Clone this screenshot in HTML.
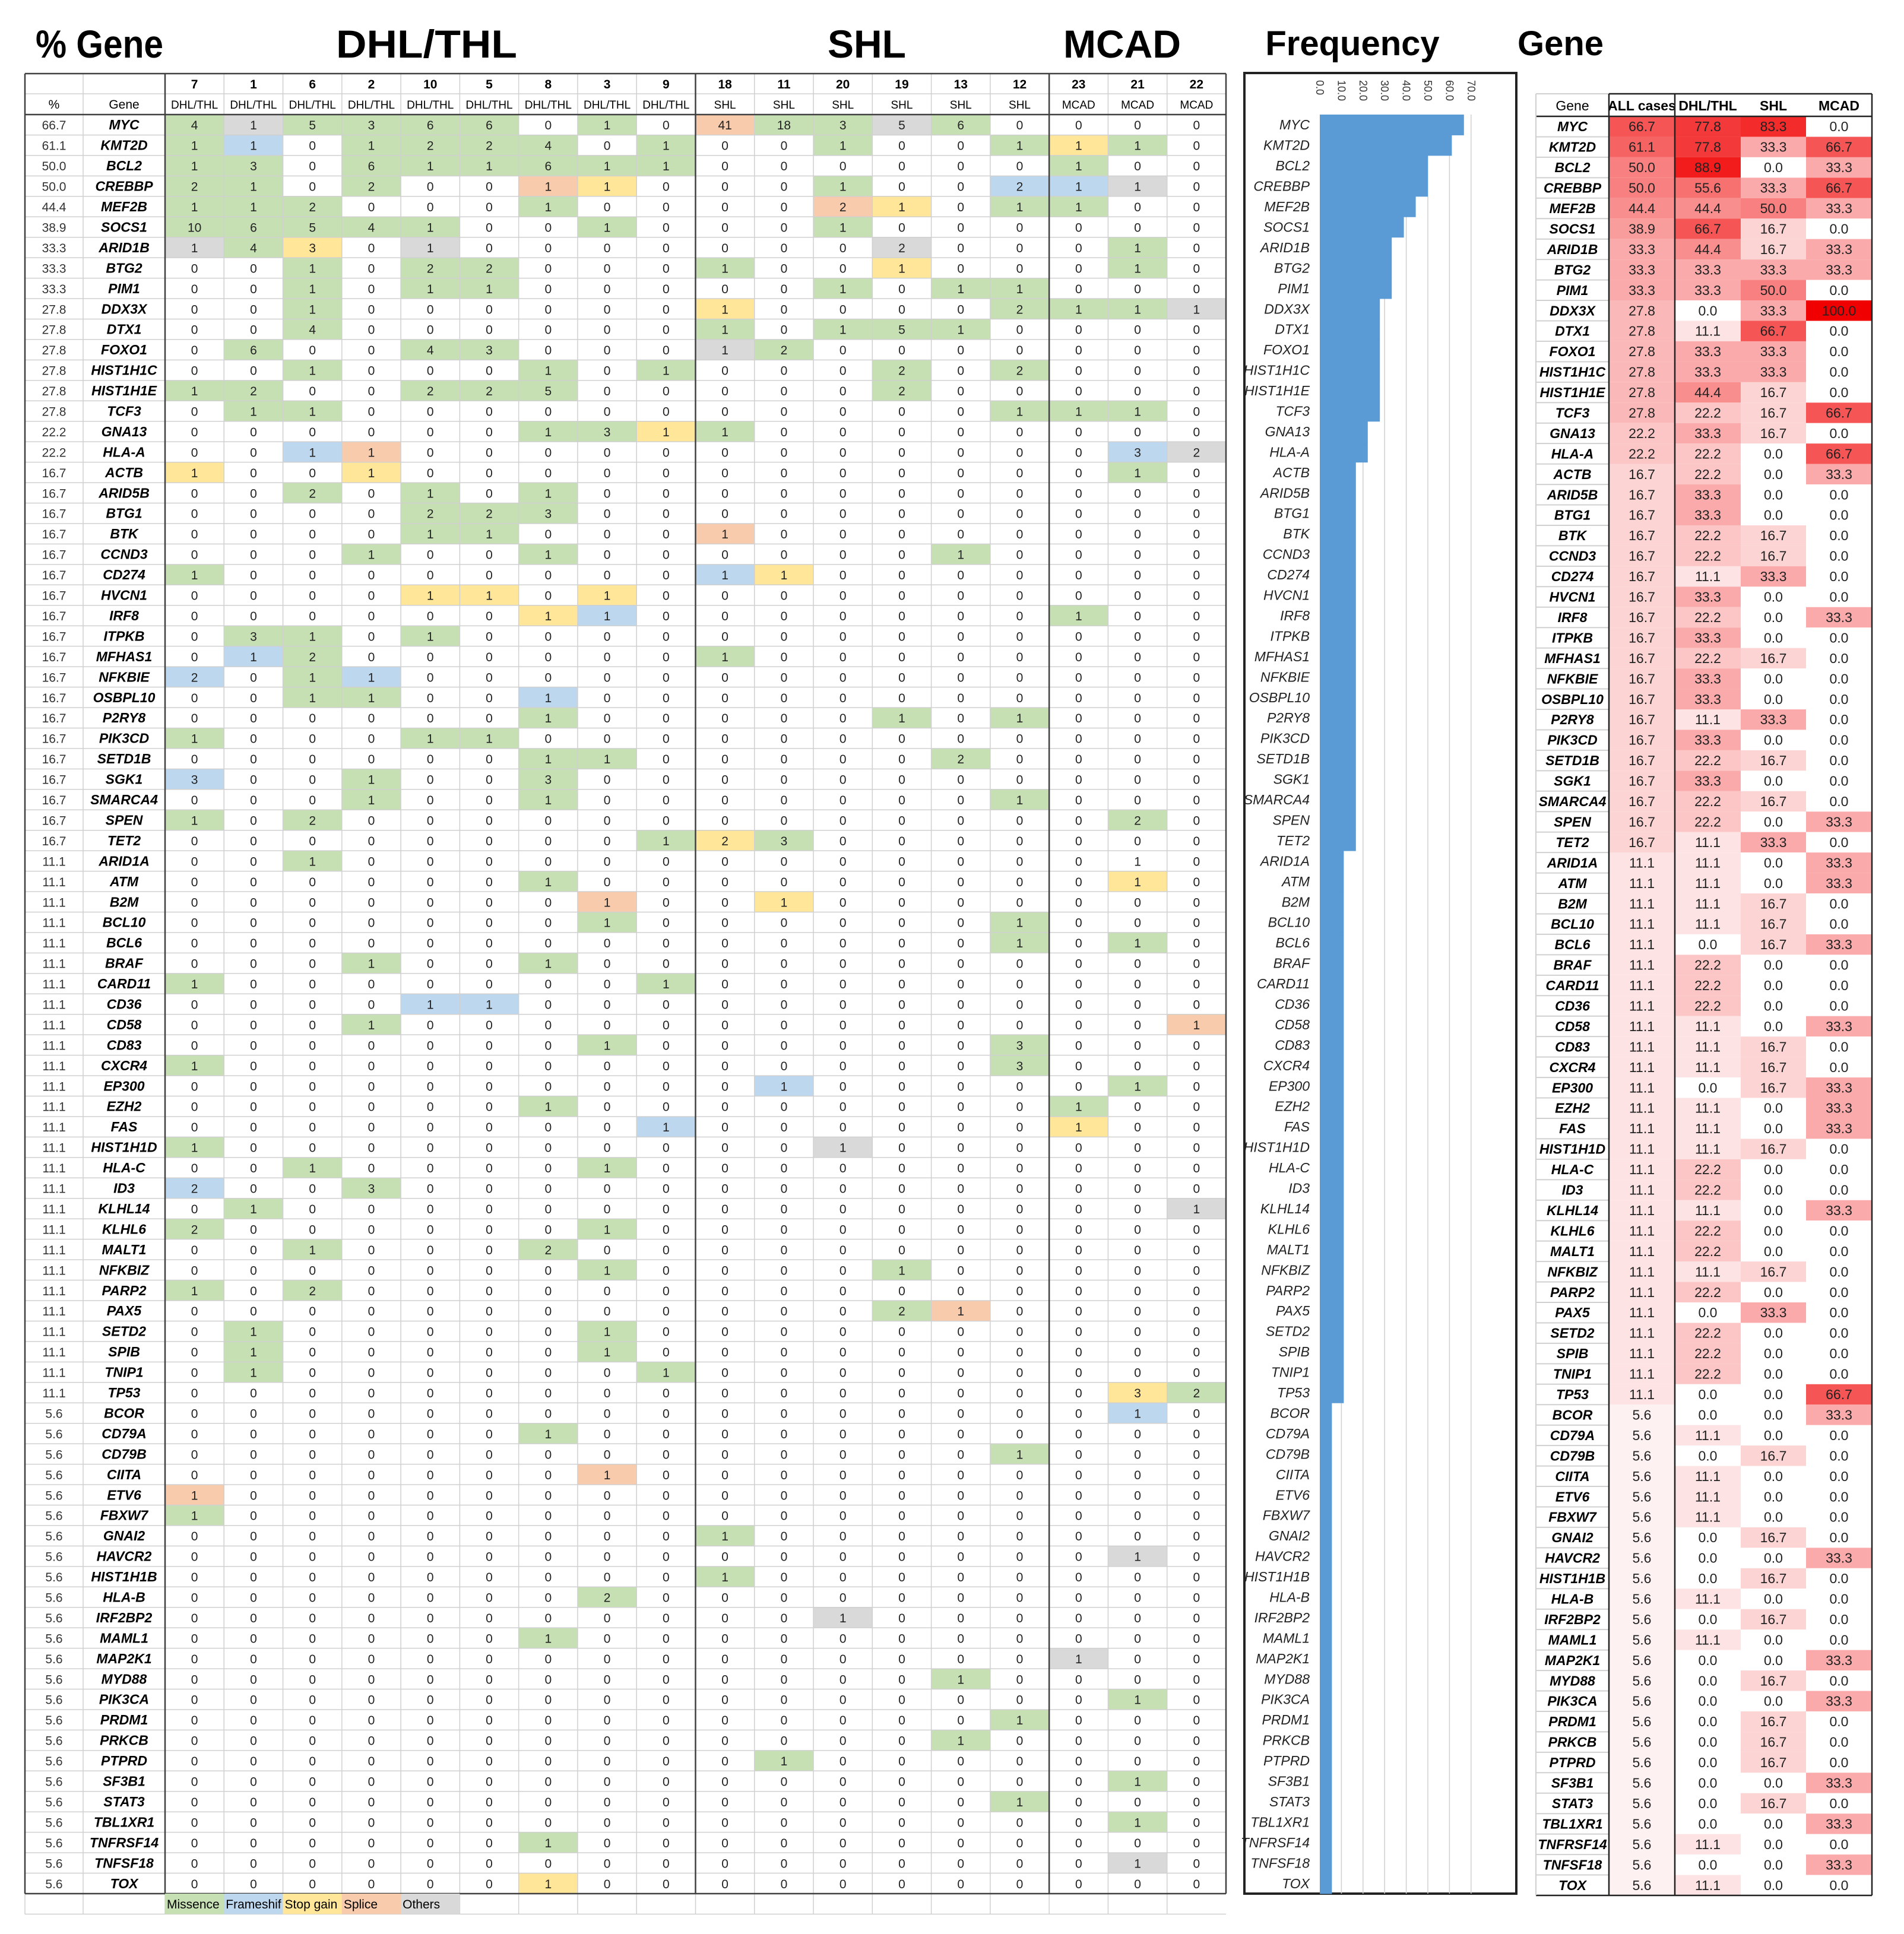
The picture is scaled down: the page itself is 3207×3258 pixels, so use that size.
<!DOCTYPE html>
<html><head><meta charset="utf-8"><style>
html,body{margin:0;padding:0;background:#fff;}
svg{display:block;}
text{font-family:"Liberation Sans Narrow","Liberation Sans",sans-serif;}
</style></head><body>
<svg id="chart" width="3207" height="3258" viewBox="0 0 3207 3258" xmlns="http://www.w3.org/2000/svg">
<rect x="0" y="0" width="3207" height="3258" fill="#fff"/>
<g font-weight="bold" font-size="66" fill="#000" font-family="Liberation Sans, sans-serif">
<text x="60" y="97" textLength="215" lengthAdjust="spacingAndGlyphs">% Gene</text>
<text x="566" y="97" textLength="305" lengthAdjust="spacingAndGlyphs">DHL/THL</text>
<text x="1460" y="97" text-anchor="middle">SHL</text>
<text x="1890" y="97" text-anchor="middle">MCAD</text>
<text x="2278" y="93" text-anchor="middle" font-size="58">Frequency</text>
<text x="2556" y="93" font-size="58">Gene</text>
</g>
<g id="left"></g><g id="freq"></g><g id="right"></g>
</svg>
<script>
const genes = ["MYC","KMT2D","BCL2","CREBBP","MEF2B","SOCS1","ARID1B","BTG2","PIM1","DDX3X","DTX1","FOXO1","HIST1H1C","HIST1H1E","TCF3","GNA13","HLA-A","ACTB","ARID5B","BTG1","BTK","CCND3","CD274","HVCN1","IRF8","ITPKB","MFHAS1","NFKBIE","OSBPL10","P2RY8","PIK3CD","SETD1B","SGK1","SMARCA4","SPEN","TET2","ARID1A","ATM","B2M","BCL10","BCL6","BRAF","CARD11","CD36","CD58","CD83","CXCR4","EP300","EZH2","FAS","HIST1H1D","HLA-C","ID3","KLHL14","KLHL6","MALT1","NFKBIZ","PARP2","PAX5","SETD2","SPIB","TNIP1","TP53","BCOR","CD79A","CD79B","CIITA","ETV6","FBXW7","GNAI2","HAVCR2","HIST1H1B","HLA-B","IRF2BP2","MAML1","MAP2K1","MYD88","PIK3CA","PRDM1","PRKCB","PTPRD","SF3B1","STAT3","TBL1XR1","TNFRSF14","TNFSF18","TOX"];
const pctAll = [66.7,61.1,50.0,50.0,44.4,38.9,33.3,33.3,33.3,27.8,27.8,27.8,27.8,27.8,27.8,22.2,22.2,16.7,16.7,16.7,16.7,16.7,16.7,16.7,16.7,16.7,16.7,16.7,16.7,16.7,16.7,16.7,16.7,16.7,16.7,16.7,11.1,11.1,11.1,11.1,11.1,11.1,11.1,11.1,11.1,11.1,11.1,11.1,11.1,11.1,11.1,11.1,11.1,11.1,11.1,11.1,11.1,11.1,11.1,11.1,11.1,11.1,11.1,5.6,5.6,5.6,5.6,5.6,5.6,5.6,5.6,5.6,5.6,5.6,5.6,5.6,5.6,5.6,5.6,5.6,5.6,5.6,5.6,5.6,5.6,5.6,5.6];
const pctDHL = [77.8,77.8,88.9,55.6,44.4,66.7,44.4,33.3,33.3,0,11.1,33.3,33.3,44.4,22.2,33.3,22.2,22.2,33.3,33.3,22.2,22.2,11.1,33.3,22.2,33.3,22.2,33.3,33.3,11.1,33.3,22.2,33.3,22.2,22.2,11.1,11.1,11.1,11.1,11.1,0,22.2,22.2,22.2,11.1,11.1,11.1,0,11.1,11.1,11.1,22.2,22.2,11.1,22.2,22.2,11.1,22.2,0,22.2,22.2,22.2,0,0,11.1,0,11.1,11.1,11.1,0,0,0,11.1,0,11.1,0,0,0,0,0,0,0,0,0,11.1,0,11.1];
const pctSHL = [83.3,33.3,0,33.3,50.0,16.7,16.7,33.3,50.0,33.3,66.7,33.3,33.3,16.7,16.7,16.7,0,0,0,0,16.7,16.7,33.3,0,0,0,16.7,0,0,33.3,0,16.7,0,16.7,0,33.3,0,0,16.7,16.7,16.7,0,0,0,0,16.7,16.7,16.7,0,0,16.7,0,0,0,0,0,16.7,0,33.3,0,0,0,0,0,0,16.7,0,0,0,16.7,0,16.7,0,16.7,0,0,16.7,0,16.7,16.7,16.7,0,16.7,0,0,0,0];
const pctMCAD = [0,66.7,33.3,66.7,33.3,0,33.3,33.3,0,100,0,0,0,0,66.7,0,66.7,33.3,0,0,0,0,0,0,33.3,0,0,0,0,0,0,0,0,0,33.3,0,33.3,33.3,0,0,33.3,0,0,0,33.3,0,0,33.3,33.3,33.3,0,0,0,33.3,0,0,0,0,0,0,0,0,66.7,33.3,0,0,0,0,0,0,33.3,0,0,0,0,33.3,0,33.3,0,0,0,33.3,0,33.3,0,33.3,0];
const caseIds = ["7","1","6","2","10","5","8","3","9","18","11","20","19","13","12","23","21","22"];
const caseGroups = ["DHL/THL","DHL/THL","DHL/THL","DHL/THL","DHL/THL","DHL/THL","DHL/THL","DHL/THL","DHL/THL","SHL","SHL","SHL","SHL","SHL","SHL","MCAD","MCAD","MCAD"];
// mutation counts per case; letter = type (g missense, b frameshift, y stop gain, o splice, x others); "i:v" = case index:value, others zero
const mutations = [
"4g 1x 5g 3g 6g 6g 0 1g 0 41o 18g 3g 5x 6g 0 0 0 0",
"1g 1b 0 1g 2g 2g 4g 0 1g 0 0 1g 0 0 1g 1y 1g 0",
"1g 3g 0 6g 1g 1g 6g 1g 1g 0 0 0 0 0 0 1g 0 0",
"2g 1g 0 2g 0 0 1o 1y 0 0 0 1g 0 0 2b 1b 1x 0",
"1g 1g 2g 0 0 0 1g 0 0 0 0 2o 1y 0 1g 1g 0 0",
"10g 6g 5g 4g 1g 0 0 1g 0 0 0 1g 0 0 0 0 0 0",
"1x 4g 3y 0 1x 0 0 0 0 0 0 0 2x 0 0 0 1g 0",
"0 0 1g 0 2g 2g 0 0 0 1g 0 0 1y 0 0 0 1g 0",
"0 0 1g 0 1g 1g 0 0 0 0 0 1g 0 1g 1g 0 0 0",
"0 0 1g 0 0 0 0 0 0 1y 0 0 0 0 2g 1g 1g 1x",
"0 0 4g 0 0 0 0 0 0 1g 0 1g 5g 1g 0 0 0 0",
"0 6g 0 0 4g 3g 0 0 0 1x 2g 0 0 0 0 0 0 0",
"0 0 1g 0 0 0 1g 0 1g 0 0 0 2g 0 2g 0 0 0",
"1g 2g 0 0 2g 2g 5g 0 0 0 0 0 2g 0 0 0 0 0",
"0 1g 1g 0 0 0 0 0 0 0 0 0 0 0 1g 1g 1g 0",
"0 0 0 0 0 0 1g 3g 1y 1g 0 0 0 0 0 0 0 0",
"0 0 1b 1o 0 0 0 0 0 0 0 0 0 0 0 0 3b 2x",
"0:1y 3:1y 16:1g","2:2g 4:1g 6:1g","4:2g 5:2g 6:3g","4:1g 5:1g 9:1o","3:1g 6:1g 13:1g","0:1g 9:1b 10:1y",
"4:1y 5:1y 7:1y","6:1y 7:1b 15:1g","1:3g 2:1g 4:1g","1:1b 2:2g 9:1g","0:2b 2:1g 3:1b","2:1g 3:1g 6:1b",
"6:1g 12:1g 14:1g","0:1g 4:1g 5:1g","6:1g 7:1g 13:2g","0:3b 3:1g 6:3g","3:1g 6:1g 14:1g","0:1g 2:2g 16:2g",
"8:1g 9:2y 10:3g","2:1g 16:1w","6:1g 16:1y","7:1o 10:1y","7:1g 14:1g","14:1g 16:1g","3:1g 6:1g","0:1g 8:1g",
"4:1b 5:1b","3:1g 17:1o","7:1g 14:3g","0:1g 14:3g","10:1b 16:1g","6:1g 15:1g","8:1b 15:1y","0:1g 11:1x",
"2:1g 7:1g","0:2b 3:3g","1:1g 17:1x","0:2g 7:1g","2:1g 6:2g","7:1g 12:1g","0:1g 2:2g","12:2g 13:1o",
"1:1g 7:1g","1:1g 7:1g","1:1g 8:1g","16:3y 17:2g","16:1b","6:1g","14:1g","7:1o","0:1o","0:1g","9:1g","16:1x",
"9:1g","7:2g","11:1x","6:1g","15:1x","13:1g","16:1g","14:1g","13:1g","10:1g","16:1g","14:1g","16:1g","6:1g","16:1x","6:1y"
];
const freqTicks = ["0.0","10.0","20.0","30.0","40.0","50.0","60.0","70.0"];
const legendLabels = ["Missence","Frameshif","Stop gain","Splice","Others"];

const NS = "http://www.w3.org/2000/svg";
const COL = {g:"#c6e0b4",b:"#bdd7ee",y:"#ffe699",o:"#f8cbad",x:"#d9d9d9",w:"none"};
const legendColors = ["#c6e0b4","#bdd7ee","#ffe699","#f8cbad","#d9d9d9"];
function mk(parent, tag, attrs, txt){const e=document.createElementNS(NS,tag);for(const k in attrs)e.setAttribute(k,attrs[k]);if(txt!==undefined)e.textContent=txt;parent.appendChild(e);return e;}
function parseRow(s){
  const out=[];for(let i=0;i<18;i++)out.push({v:0,c:null});
  const t=s.trim().split(/\s+/);
  if(s.indexOf(":")>=0){t.forEach(k=>{const [i,r]=k.split(":");const m=r.match(/^(\d+)([a-z]?)$/);out[+i]={v:+m[1],c:m[2]||null};});}
  else t.forEach((k,i)=>{const m=k.match(/^(\d+)([a-z]?)$/);out[i]={v:+m[1],c:m[2]||null};});
  return out;
}
const N = genes.length;
const ROW0 = 193, RH = (3190-193)/N;
const rowY = i => ROW0 + i*RH;
// ---------- left table ----------
const L = document.getElementById("left");
const X0=42, XP=140, XG=278, XR=2065, CW=(XR-XG)/18, TOP=124, H1=158, YB=3190;
const caseX = j => XG + j*CW;
for(let i=0;i<N;i++){
  const y=rowY(i); const cells=parseRow(mutations[i]);
  cells.forEach((c,j)=>{
    if(c.c && COL[c.c]!=="none"){const r=mk(L,"rect",{x:caseX(j),y:y,width:CW,height:RH,fill:COL[c.c]});
      
      }
  });
}
for(let i=0;i<=N+1;i++){const y=rowY(i);mk(L,"line",{x1:X0,x2:XR,y1:y,y2:y,stroke:"#d0d0d0","stroke-width":1.5});}
mk(L,"line",{x1:X0,x2:XR,y1:H1,y2:H1,stroke:"#d0d0d0","stroke-width":1.5});
const vx=[X0,XP,XG];for(let j=1;j<18;j++)vx.push(caseX(j));
vx.forEach(x=>mk(L,"line",{x1:x,x2:x,y1:TOP,y2:YB+RH,stroke:"#d0d0d0","stroke-width":1.5}));
[[X0,TOP,XR,TOP],[X0,ROW0,XR,ROW0],[X0,YB,XR,YB],[X0,TOP,X0,YB],[XR,TOP,XR,YB],[XG,TOP,XG,YB],[caseX(9),TOP,caseX(9),YB],[caseX(15),TOP,caseX(15),YB]].forEach(a=>mk(L,"line",{x1:a[0],y1:a[1],x2:a[2],y2:a[3],stroke:"#404040","stroke-width":2.5}));
for(let j=0;j<18;j++){
  const cx=caseX(j)+CW/2;
  const t1=mk(L,"text",{x:cx,y:149,"text-anchor":"middle","font-size":21,"font-weight":"bold"},caseIds[j]);
  
  
  const t2=mk(L,"text",{x:cx,y:183,"text-anchor":"middle","font-size":19},caseGroups[j]);
  
  
}
mk(L,"text",{x:(X0+XP)/2,y:183,"text-anchor":"middle","font-size":21,},"%");
mk(L,"text",{x:(XP+XG)/2,y:183,"text-anchor":"middle","font-size":21,},"Gene");
for(let i=0;i<N;i++){
  const y=rowY(i)+RH/2+8; const cells=parseRow(mutations[i]);
  const p=mk(L,"text",{x:(X0+XP)/2,y:y,"text-anchor":"middle","font-size":21,fill:"#333"},pctAll[i].toFixed(1));
  
  
  const g=mk(L,"text",{x:(XP+XG)/2,y:y,"text-anchor":"middle","font-size":23,"font-weight":"bold","font-style":"italic"},genes[i]);
  
  
  cells.forEach((c,j)=>{const t=mk(L,"text",{x:caseX(j)+CW/2,y:y,"text-anchor":"middle","font-size":21,fill:"#222"},String(c.v));
    
    });
}
legendLabels.forEach((lab,k)=>{
  const y=YB;
  const r=mk(L,"rect",{x:caseX(k),y:y,width:CW,height:RH,fill:legendColors[k]});
  
  
  const t=mk(L,"text",{x:caseX(k)+3,y:y+RH/2+8,"font-size":21},lab);
  
  
});
// ---------- frequency bar chart ----------
const F=document.getElementById("freq");
const FX0=2096,FX1=2554,FY0=123,FY1=3190, AX0=2223, UNIT=36.4/10;
const fx = v => AX0 + v*UNIT;
mk(F,"rect",{x:FX0,y:FY0,width:FX1-FX0,height:FY1-FY0,fill:"#fff",stroke:"#222","stroke-width":4,});
freqTicks.forEach((t,k)=>{
  const v=parseFloat(t), x=fx(v);
  if(k>0){const gl=mk(F,"line",{x1:x,x2:x,y1:ROW0,y2:FY1,stroke:"#d0d0d0","stroke-width":1.5});
    
    }
  const tx=mk(F,"text",{x:0,y:0,"font-size":18,fill:"#333",transform:`translate(${x-6},135) rotate(90)`},t);
  
  
});
for(let i=0;i<N;i++){
  const y=rowY(i);
  const b=mk(F,"rect",{x:fx(0),y:y,width:fx(pctAll[i])-fx(0),height:RH+0.5,fill:"#5b9bd5"});
  
  
  const t=mk(F,"text",{x:2206,y:y+RH/2+8,"text-anchor":"end","font-size":23,"font-style":"italic",fill:"#222"},genes[i]);
  
  
}
// ---------- right heatmap ----------
const R=document.getElementById("right");
const RX=[2587,2710,2821,2932,3042,3153], RTOP=158, ROFF=3;
function heat(v){const t=Math.min(v,100)/100;const r=Math.round(255-15*t),g=Math.round(255*(1-t)),b=Math.round(255*(1-t));return `rgb(${r},${g},${b})`;}
const heads=["Gene","ALL cases","DHL/THL","SHL","MCAD"];
const vals=[pctAll,pctDHL,pctSHL,pctMCAD];
heads.forEach((h,k)=>{const t=mk(R,"text",{x:(RX[k]+RX[k+1])/2,y:186,"text-anchor":"middle","font-size":23,"font-weight":k?"bold":"normal"},h);
  
  });
for(let i=0;i<N;i++){
  const y=rowY(i)+ROFF;
  vals.forEach((arr,k)=>{
    const c=mk(R,"rect",{x:RX[k+1],y:y,width:RX[k+2]-RX[k+1],height:RH,fill:heat(arr[i])});
    
    
    const t=mk(R,"text",{x:(RX[k+1]+RX[k+2])/2,y:y+RH/2+8,"text-anchor":"middle","font-size":23,fill:"#222"},arr[i].toFixed(1));
    
    
  });
  const g=mk(R,"text",{x:(RX[0]+RX[1])/2,y:y+RH/2+8,"text-anchor":"middle","font-size":23,"font-weight":"bold","font-style":"italic"},genes[i]);
  
  
  mk(R,"line",{x1:RX[0],x2:RX[1],y1:y,y2:y,stroke:"#d0d0d0","stroke-width":2});
}
mk(R,"line",{x1:RX[0],x2:RX[5],y1:RTOP,y2:RTOP,stroke:"#d0d0d0","stroke-width":2});
const RBOT=rowY(N)+ROFF;
[[RX[1],RTOP,RX[5],RTOP],[RX[0],ROW0+ROFF,RX[5],ROW0+ROFF],[RX[0],RBOT,RX[5],RBOT],[RX[5],RTOP,RX[5],RBOT],[RX[1],RTOP,RX[1],RBOT],[RX[2],RTOP,RX[2],RBOT]].forEach(a=>mk(R,"line",{x1:a[0],y1:a[1],x2:a[2],y2:a[3],stroke:"#222","stroke-width":2.5}));
mk(R,"line",{x1:RX[0],x2:RX[0],y1:RTOP,y2:RBOT,stroke:"#d0d0d0","stroke-width":2});
</script>
</body></html>
